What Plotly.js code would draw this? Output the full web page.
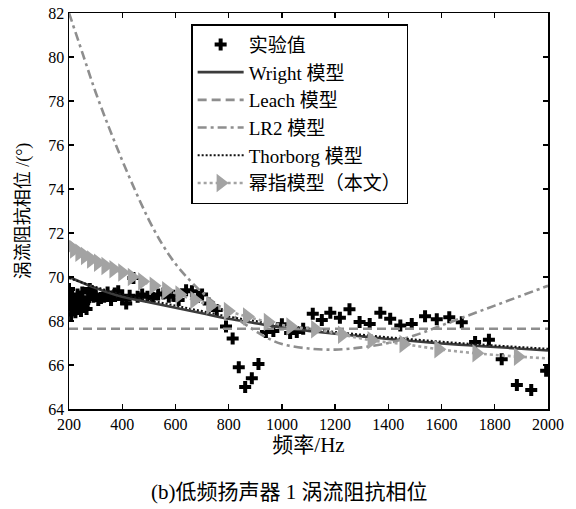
<!DOCTYPE html>
<html>
<head>
<meta charset="utf-8">
<script src="https://cdn.plot.ly/plotly-3.0.1.min.js"></script>
<style>
  html, body { margin: 0; padding: 0; background: #fff; }
  #chart { width: 576px; height: 509px; }
</style>
</head>
<body>
<div id="chart"></div>
<script>
// Measured eddy-current impedance phase (deg) of low-frequency driver 1
const expFreq = [200, 204, 208, 212, 216, 220, 224, 228, 232, 236, 240, 245, 250, 255, 260, 266, 272, 278, 285, 292,
  300, 310, 320, 332, 345, 358, 372, 385, 400, 415, 428, 442, 458, 475, 495, 515, 535, 555, 575, 592,
  612, 640, 662, 685, 700, 725, 755, 790, 815, 838, 862, 887, 912, 940, 968, 1000, 1031, 1056, 1080, 1116,
  1150, 1182, 1218, 1254, 1292, 1330, 1370, 1407, 1445, 1488, 1538, 1582, 1629, 1676, 1726, 1778, 1826, 1883, 1937, 1993];
const expPhase = [69.45, 68.85, 68.3, 69.1, 68.55, 68.95, 68.4, 68.75, 69.2, 68.55, 69.05, 68.45, 69.3, 68.7, 68.9, 68.55, 69.0, 69.45, 69.3, 69.1,
  69.2, 68.95, 69.05, 69.1, 69.3, 68.95, 69.25, 69.35, 69.0, 68.8, 69.15, 69.95, 69.1, 69.2, 69.1, 69.05, 69.2, 69.25, 69.1, 69.15,
  68.95, 69.4, 69.35, 69.1, 69.2, 68.8, 68.5, 67.75, 67.2, 65.9, 65.0, 65.4, 66.05, 67.5, 67.55, 67.85, 67.45, 67.5, 67.65, 68.33,
  68.05, 68.38, 68.15, 68.53, 67.95, 67.86, 68.37, 68.1, 67.8, 67.86, 68.22, 68.08, 68.17, 67.94, 67.05, 67.15, 66.26, 65.09, 64.86, 65.74];

// Model curves sampled every 100 Hz
const modelFreq = [200, 300, 400, 500, 600, 700, 800, 900, 1000, 1100, 1200, 1300, 1400, 1500, 1600, 1700, 1800, 1900, 2000];
const wrightPhase = [70.0, 69.5, 69.1, 68.85, 68.6, 68.35, 68.1, 67.9, 67.7, 67.55, 67.42, 67.3, 67.18, 67.08, 66.98, 66.9, 66.82, 66.74, 66.66];
const thorborgPhase = [69.95, 69.55, 69.2, 68.95, 68.7, 68.45, 68.2, 68.0, 67.8, 67.65, 67.5, 67.38, 67.26, 67.16, 67.06, 66.97, 66.89, 66.81, 66.74];
const leachPhase = [67.65, 67.65, 67.65, 67.65, 67.65, 67.65, 67.65, 67.65, 67.65, 67.65, 67.65, 67.65, 67.65, 67.65, 67.65, 67.65, 67.65, 67.65, 67.65];

// LR2 model, denser sampling at the steep low end
const lr2Freq = [200, 250, 300, 350, 400, 450, 500, 550, 600, 650, 700, 750, 800, 850, 900, 950, 1000, 1100, 1200, 1300, 1400, 1500, 1600, 1700, 1800, 1900, 2000];
const lr2Phase = [82.0, 80.2, 78.4, 76.8, 75.3, 73.9, 72.6, 71.5, 70.6, 69.9, 69.3, 68.8, 68.4, 67.95, 67.55, 67.2, 66.95, 66.75, 66.7, 66.8, 67.0, 67.35, 67.8, 68.25, 68.7, 69.15, 69.6];

// Power-exponent model (this work), at its marker frequencies
const powFreq = [201, 219, 239, 260, 283, 309, 337, 367, 400, 436, 475, 518, 565, 615, 671, 731, 797, 869, 947, 1032, 1125, 1226, 1337, 1457, 1588, 1731, 1887];
const powPhase = [71.4, 71.25, 71.1, 70.95, 70.8, 70.65, 70.5, 70.35, 70.2, 70.0, 69.8, 69.6, 69.4, 69.2, 68.95, 68.7, 68.45, 68.2, 67.95, 67.75, 67.62, 67.38, 67.12, 66.95, 66.72, 66.53, 66.38];
const powTailFreq = [1887, 2000];
const powTailPhase = [66.38, 66.3];

const xTicks = [200, 400, 600, 800, 1000, 1200, 1400, 1600, 1800, 2000];
const yTicks = [64, 66, 68, 70, 72, 74, 76, 78, 80, 82];

const labels = {
  exp: '实验值',
  wright: 'Wright 模型',
  leach: 'Leach 模型',
  lr2: 'LR2 模型',
  thorborg: 'Thorborg 模型',
  pow: '幂指模型（本文）',
  xTitle: '频率/Hz',
  yTitle: '涡流阻抗相位 /(°)',
  caption: '(b)低频扬声器 1 涡流阻抗相位'
};

const FONT = 'Liberation Serif, "Noto Sans CJK SC", serif';
const GRAY = '#8e8e8e';
const LIGHT = '#a3a3a3';

const traces = [
  { x: expFreq, y: expPhase, name: labels.exp, type: 'scatter', mode: 'markers',
    marker: { symbol: 'cross', size: 10, color: '#000' } },
  { x: modelFreq, y: wrightPhase, name: labels.wright, type: 'scatter', mode: 'lines',
    line: { color: '#3c3c3c', width: 2.6, shape: 'spline' } },
  { x: modelFreq, y: leachPhase, name: labels.leach, type: 'scatter', mode: 'lines',
    line: { color: GRAY, width: 2.6, dash: '9px,5px' } },
  { x: lr2Freq, y: lr2Phase, name: labels.lr2, type: 'scatter', mode: 'lines',
    line: { color: GRAY, width: 2.6, dash: '9px,4px,3px,4px', shape: 'spline' } },
  { x: modelFreq, y: thorborgPhase, name: labels.thorborg, type: 'scatter', mode: 'lines',
    line: { color: '#111', width: 2, dash: '2px,2px', shape: 'spline' } },
  { x: powTailFreq, y: powTailPhase, showlegend: false, hoverinfo: 'skip', type: 'scatter', mode: 'lines',
    line: { color: LIGHT, width: 2.6, dash: '3px,3px' } },
  { x: powFreq, y: powPhase, name: labels.pow, type: 'scatter', mode: 'lines+markers',
    line: { color: LIGHT, width: 2.6, dash: '3px,3px', shape: 'spline' },
    marker: { symbol: 'triangle-right', size: 16, color: LIGHT } }
];

const axisBase = {
  showgrid: false, zeroline: false,
  showline: true, linecolor: '#000', linewidth: 1.5,
  mirror: 'ticks', ticks: 'inside', ticklen: 5, tickwidth: 1.3, tickcolor: '#000',
  tickfont: { family: FONT, size: 16, color: '#000' }
};

const layout = {
  width: 576, height: 509,
  paper_bgcolor: '#fff', plot_bgcolor: '#fff',
  margin: { l: 69, r: 28, t: 13, b: 100 },
  showlegend: true,
  font: { family: FONT, color: '#000' },
  xaxis: Object.assign({}, axisBase, {
    range: [200, 2000], tickvals: xTicks, ticktext: xTicks.map(String),
    title: { text: labels.xTitle, font: { family: FONT, size: 21 }, standoff: 4 }
  }),
  yaxis: Object.assign({}, axisBase, {
    range: [64, 82], tickvals: yTicks, ticktext: yTicks.map(String),
    title: { text: labels.yTitle, font: { family: FONT, size: 18 }, standoff: 14 }
  }),
  legend: {
    x: 0.255, y: 0.972, xanchor: 'left', yanchor: 'top',
    bgcolor: '#fff', bordercolor: '#000', borderwidth: 1.5,
    font: { family: FONT, size: 19, color: '#000' },
    itemwidth: 46, tracegroupgap: 0
  },
  annotations: [{
    text: labels.caption, xref: 'paper', yref: 'paper',
    x: 0.46, y: -0.21, xanchor: 'center', yanchor: 'middle',
    showarrow: false, font: { family: FONT, size: 21, color: '#000' }
  }]
};

Plotly.newPlot('chart', traces, layout, { displayModeBar: false, staticPlot: true });
</script>
</body>
</html>
